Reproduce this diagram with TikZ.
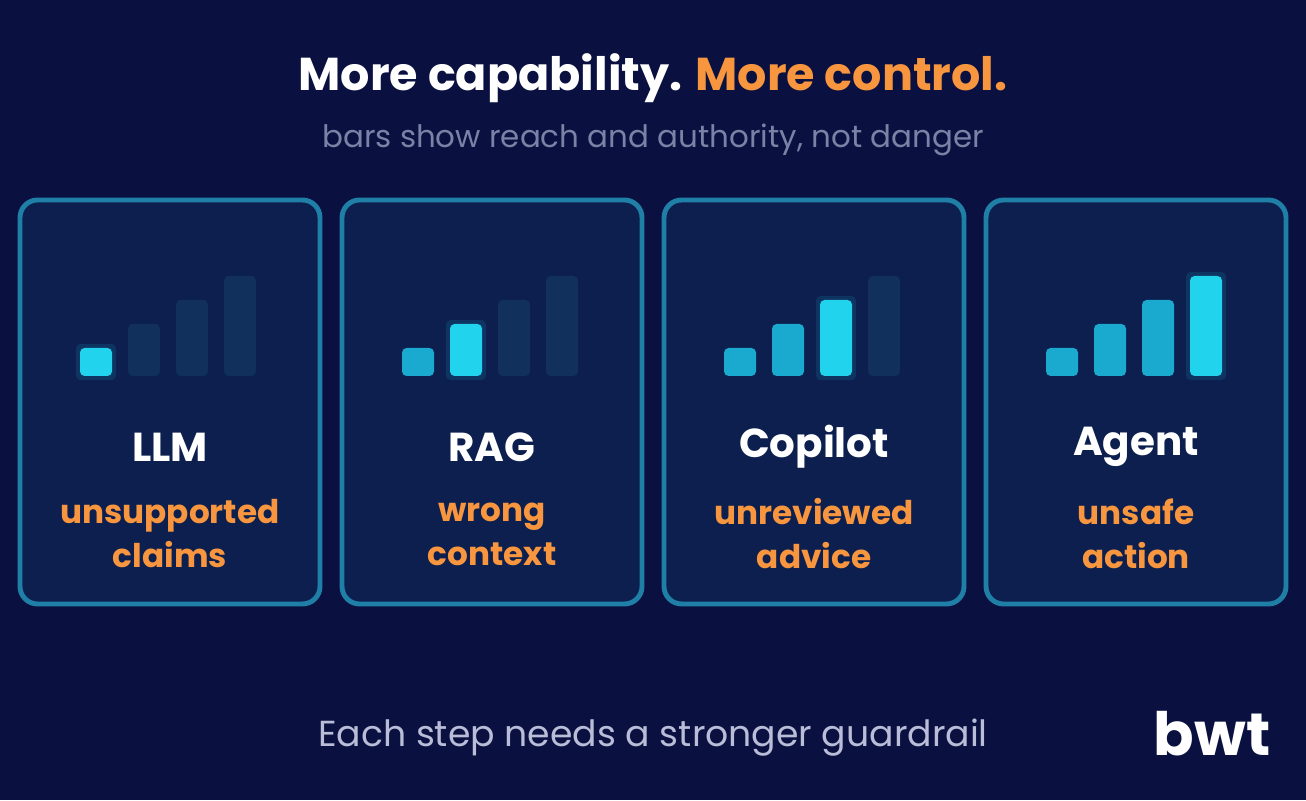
\documentclass[tikz,border=0pt]{standalone}
\usepackage{fontspec}
\setmainfont{Poppins}
\usetikzlibrary{positioning}
\definecolor{bgnavy}{HTML}{0A1040}
\definecolor{cardfill}{HTML}{0C1F4E}
\definecolor{cardline}{HTML}{1F7FA6}
\definecolor{barcyan}{HTML}{22D3EE}
\definecolor{barlit}{HTML}{1AA9CF}
\definecolor{bardark}{HTML}{11305C}
\definecolor{accent}{HTML}{F7963F}
\definecolor{subgrey}{HTML}{7A82A6}
\definecolor{footgrey}{HTML}{B9BDD8}
\tikzset{
 card/.style={draw=cardline, line width=1.4pt, fill=cardfill, rounded corners=5pt},
 bar/.style={rounded corners=1.3pt},
 cardname/.style={text=white, font=\fontsize{11.5}{14}\selectfont\bfseries},
 risk/.style={text=accent, font=\fontsize{9.3}{12.5}\selectfont\bfseries, align=center},
}
\begin{document}
\begin{tikzpicture}[x=1cm,y=1cm]
 \fill[bgnavy] (0,0) rectangle (13.06,8);
 \useasboundingbox (0,0) rectangle (13.06,8);

 \node (title) at (6.53,7.22) {\fontsize{13.1}{16}\selectfont\bfseries
  \textcolor{white}{More capability.} \textcolor{accent}{More control.}};
 \node[text=subgrey, font=\fontsize{8.8}{11}\selectfont] (sub) at (6.53,6.6)
  {bars show reach and authority, not danger};

 \foreach \i/\lab/\rA/\rB/\act in {0/LLM/unsupported/claims/1,
  1/RAG/wrong/context/2, 2/Copilot/unreviewed/advice/3, 3/Agent/unsafe/action/4} {
  \begin{scope}[shift={(3.22*\i,0)}]
   \draw[card] (0.2,1.96) rectangle (3.2,6.0);
   \foreach \b in {1,...,4} {
    \pgfmathsetmacro{\top}{4.28+0.24*\b}
    \ifnum\b<\act
     \fill[bar, barlit] ({0.32+0.48*\b},4.24) rectangle ({0.64+0.48*\b},\top);
    \else\ifnum\b=\act
     \fill[bar, barcyan, opacity=0.12] ({0.28+0.48*\b},4.2) rectangle ({0.68+0.48*\b},\top+0.04);
     \fill[bar, barcyan] ({0.32+0.48*\b},4.24) rectangle ({0.64+0.48*\b},\top);
    \else
     \fill[bar, bardark] ({0.32+0.48*\b},4.24) rectangle ({0.64+0.48*\b},\top);
    \fi\fi
   }
   \node[cardname] (n\i) at (1.7,3.53) {\lab};
   \node[risk] (r\i) at (1.7,2.66) {\rA\\\rB};
  \end{scope}
 }

 \node[text=footgrey, font=\fontsize{10.3}{12}\selectfont] (foot) at (6.53,0.62)
  {Each step needs a stronger guardrail};
 \node[text=white, font=\fontsize{17}{20}\selectfont\bfseries] (logo) at (12.12,0.66) {bwt};
\end{tikzpicture}
\end{document}
